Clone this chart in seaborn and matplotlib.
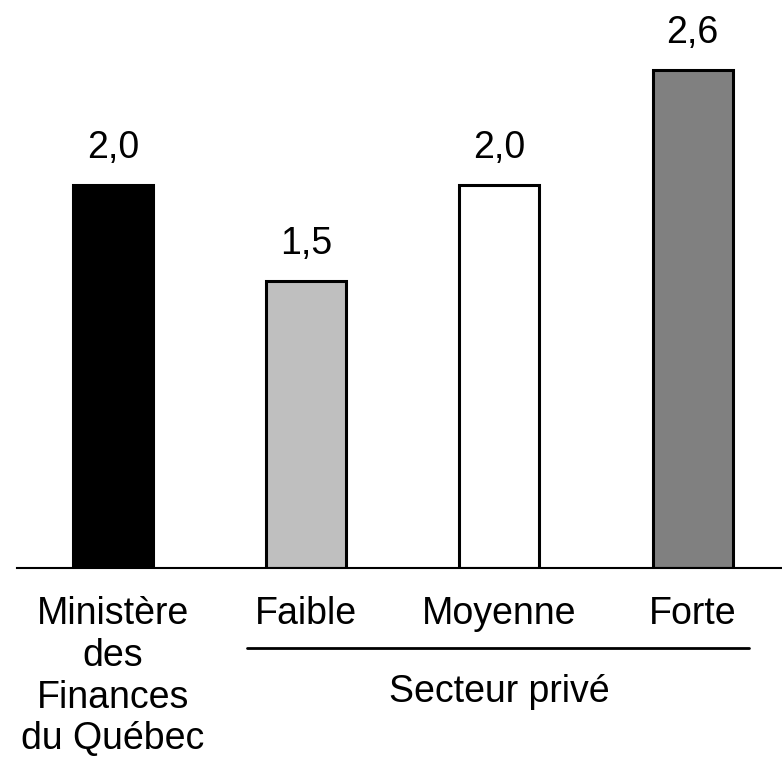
import seaborn as sns
import matplotlib.pyplot as plt
import pandas as pd
import numpy as np

# Data
categories = ['Ministère\ndes\nFinances\ndu Québec', 'Faible', 'Moyenne', 'Forte']
values = [2.0, 1.5, 2.0, 2.6]
bar_colors = ['#000000', '#bfbfbf', '#ffffff', '#808080']
group_label = 'Secteur privé'

df = pd.DataFrame({'cat': categories, 'val': values})

sns.set_style('white')
plt.rcParams['font.family'] = ['Liberation Sans', 'DejaVu Sans']
plt.rcParams['text.color'] = 'black'
plt.rcParams['xtick.color'] = 'black'

fig = plt.figure(figsize=(7.82, 7.57), dpi=100)
ax = fig.add_axes([0.0217, 0.2497, 0.9783, 0.7503])

sns.barplot(data=df, x='cat', y='val', hue='cat',
            palette=bar_colors, width=0.414,
            edgecolor='black', linewidth=2.2,
            legend=False, ax=ax)

for cont in ax.containers:
    ax.bar_label(cont, labels=[f'{v:.1f}'.replace('.', ',') for v in cont.datavalues],
                 padding=13.5, fontsize=27, color='black')

ax.set_xlim(-0.497, 3.463)
ax.set_ylim(0, 2.966)
ax.set_xlabel('')
ax.set_ylabel('')
ax.set_yticks([])
ax.tick_params(axis='x', length=0, pad=20.5, labelsize=27, labelcolor='black')
for lab in ax.get_xticklabels():
    lab.set_linespacing(1.2)
for s in ['top', 'right', 'left']:
    ax.spines[s].set_visible(False)
ax.spines['bottom'].set_linewidth(1.5)
ax.spines['bottom'].set_color('black')

# bracket for private sector forecasts
ax.plot([0.693, 3.292], [-0.141, -0.141], color='black', lw=2,
        transform=ax.get_xaxis_transform(), clip_on=False)
ax.text(2.0, -0.236, group_label, ha='center', va='baseline', fontsize=27,
        color='black', transform=ax.get_xaxis_transform())

fig.savefig('out.png', dpi=100)
